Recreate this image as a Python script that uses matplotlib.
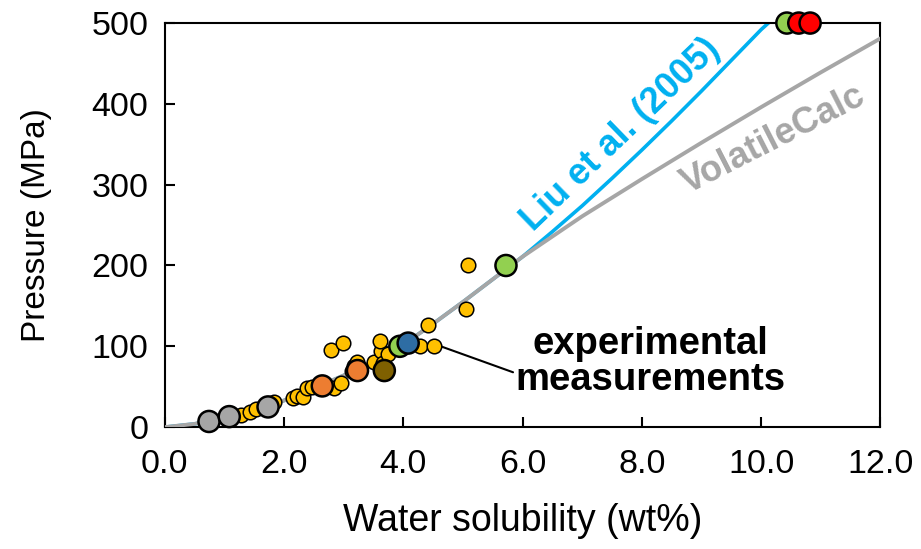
import matplotlib.pyplot as plt

plt.rcParams['font.family'] = ['Liberation Sans', 'DejaVu Sans']

# Model curves (pressure in MPa vs water solubility in wt%)
vc_x = [0, 0.5, 1.0, 1.5, 2.0, 2.5, 3.0, 3.5, 4.0, 4.5, 5.0, 5.5, 6.0, 7.0, 8.0, 9.0, 10.0, 11.0, 12.0]
vc_p = [0, 4, 11, 21, 33, 48, 64, 82, 102, 128, 155, 183, 211, 261, 307, 352, 396, 439, 481]

liu_x = [0, 0.5, 1.0, 1.5, 2.0, 2.5, 3.0, 3.5, 4.0, 4.5, 5.0, 5.5, 6.0, 6.5, 7.0, 7.5, 8.0,
         8.5, 9.0, 9.5, 10.0, 10.12]
liu_p = [0, 4, 11, 21, 33, 48, 64, 82, 102, 128, 155, 183, 211, 242, 274, 308, 343,
         379, 416, 454, 492, 500]

# Literature measurements (small yellow dots)
lit_x = [1.28, 1.43, 1.52, 1.83, 2.15, 2.21, 2.31, 2.39, 2.47, 2.64, 2.83, 2.96, 3.13, 3.18,
         3.22, 3.50, 3.62, 3.61, 3.66, 3.74, 2.78, 2.99, 4.28, 4.52, 4.42, 5.05, 5.08]
lit_p = [15, 19, 23, 31, 36, 38, 37, 48, 50, 48, 49, 55, 70, 76,
         81, 81, 94, 107, 79, 91, 95, 104, 101, 101, 126, 146, 200]

# Experimental measurements (large coloured dots)
exp_x = [0.74, 1.08, 1.73, 2.64, 3.23, 3.68, 3.94, 4.08, 5.72, 10.43, 10.63, 10.82]
exp_p = [7, 13, 25, 51, 70, 70, 100, 104, 200, 500, 500, 500]
exp_c = ['#A6A6A6', '#A6A6A6', '#A6A6A6', '#ED7D31', '#ED7D31', '#7F6000',
         '#92D050', '#2E6DA4', '#92D050', '#92D050', '#FF0000', '#FF0000']

fig = plt.figure(figsize=(9.21, 5.49), dpi=100)
ax = fig.add_axes([0.179, 0.222, 0.777, 0.736])

ax.plot(liu_x, liu_p, color='#00B0F0', lw=2.6, zorder=2)
ax.plot(vc_x, vc_p, color='#A6A6A6', lw=2.8, zorder=3)

ax.scatter(lit_x, lit_p, s=110, c='#FFC000', edgecolors='black', linewidths=1.1, zorder=4)
ax.scatter(exp_x, exp_p, s=230, c=exp_c, edgecolors='black', linewidths=1.8, zorder=5,
           clip_on=False)

ax.text(7.65, 362, 'Liu et al. (2005)', color='#00B0F0', fontsize=26, fontweight='bold',
        rotation=44, ha='center', va='center')
ax.text(10.2, 356, 'VolatileCalc', color='#A6A6A6', fontsize=26, fontweight='bold',
        rotation=27, ha='center', va='center')
ax.annotate('experimental\nmeasurements', xy=(4.57, 101.5), xytext=(8.15, 80),
            fontsize=27.5, fontweight='bold', ha='center', va='center', linespacing=1.0,
            arrowprops=dict(arrowstyle='-', color='black', lw=1.5, shrinkA=0, shrinkB=0,
                            relpos=(0.0, 0.35)))

ax.set_xlim(0, 12)
ax.set_ylim(0, 500)
ax.set_xticks([0, 2, 4, 6, 8, 10, 12])
ax.set_xticklabels(['0.0', '2.0', '4.0', '6.0', '8.0', '10.0', '12.0'])
ax.set_yticks([0, 100, 200, 300, 400, 500])
ax.tick_params(direction='in', length=7, width=1.5, labelsize=24.5)
ax.tick_params(axis='x', pad=16)
ax.tick_params(axis='y', pad=12)
for s in ax.spines.values():
    s.set_linewidth(1.5)
ax.set_xlabel('Water solubility (wt%)', fontsize=27, labelpad=16)
ax.set_ylabel('Pressure (MPa)', fontsize=24, labelpad=28)

fig.savefig('out.png', dpi=100)
